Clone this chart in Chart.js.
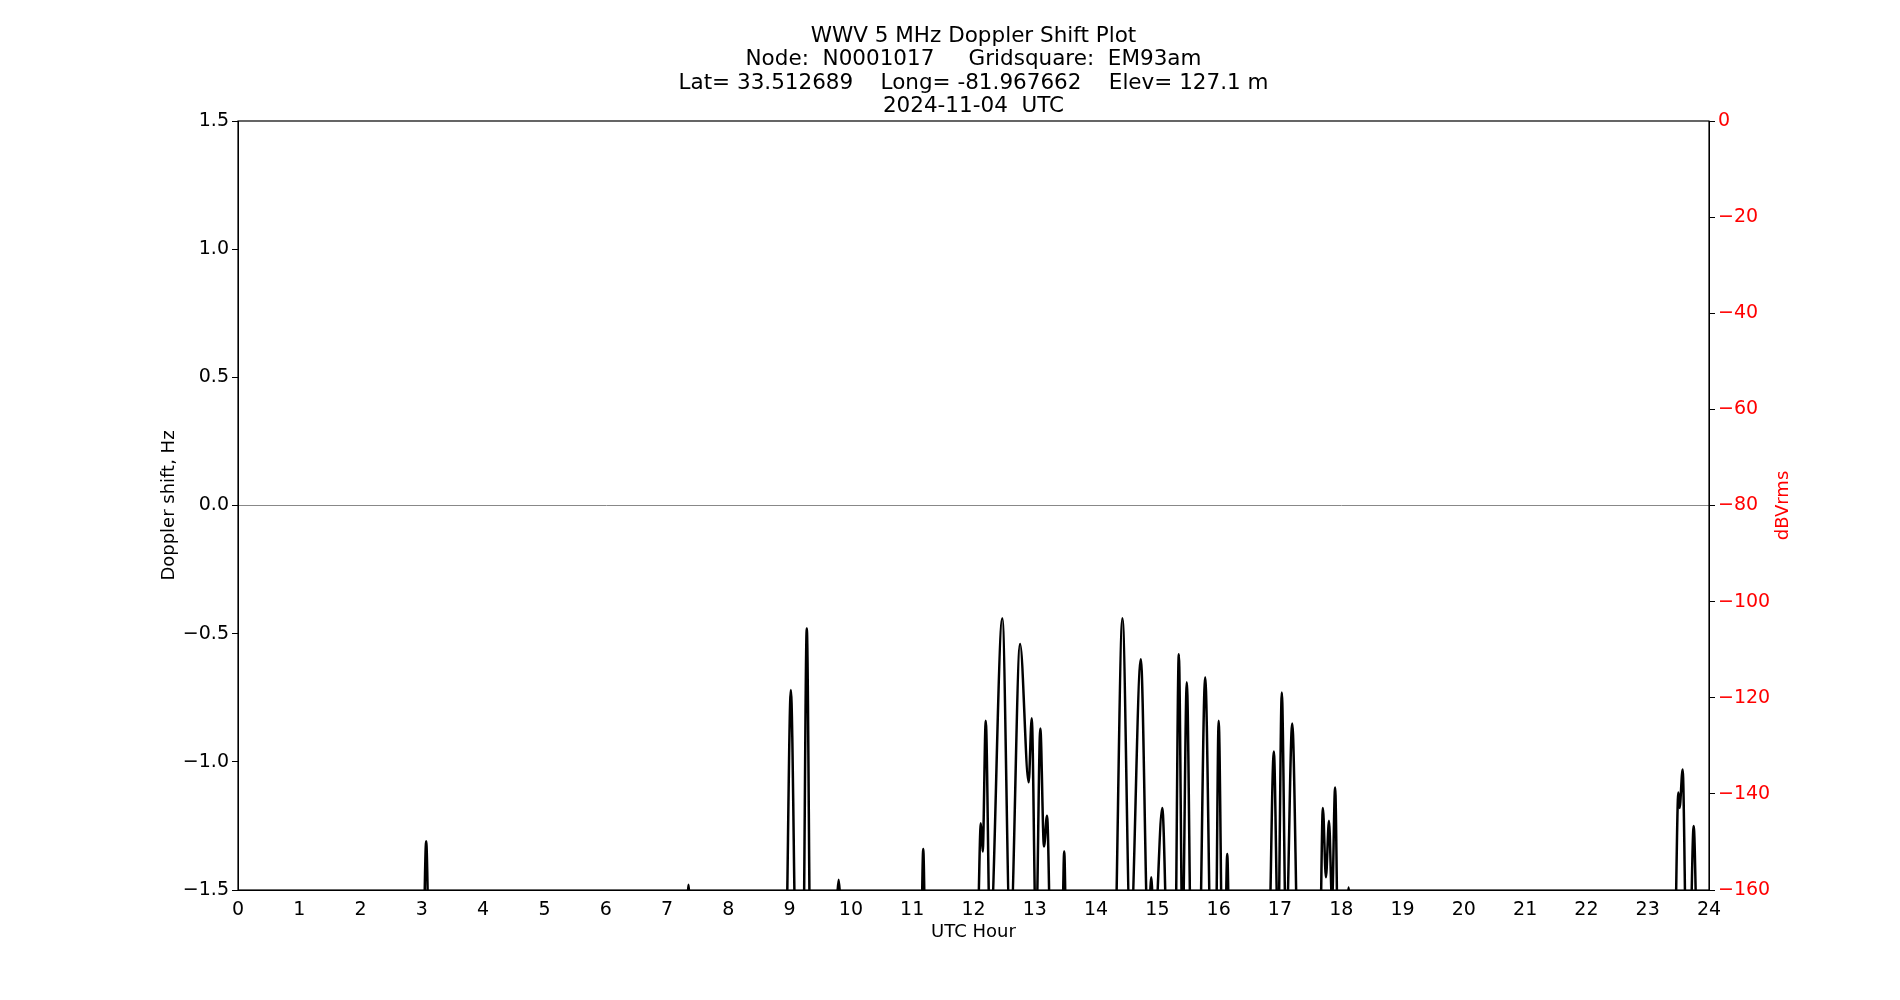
<!DOCTYPE html>
<html>
<head>
<meta charset="utf-8">
<script src="https://cdn.jsdelivr.net/npm/chart.js@4.4.1/dist/chart.umd.min.js"></script>
<style>
  body { margin: 0; background: #fff; }
  #wrap { width: 1900px; height: 1000px; }
</style>
</head>
<body>
<div id="wrap"><canvas id="dopplerChart"></canvas></div>
<script>
// title lines
const titleLines = [
    "WWV 5 MHz Doppler Shift Plot",
    "Node:  N0001017     Gridsquare:  EM93am",
    "Lat= 33.512689    Long= -81.967662    Elev= 127.1 m",
    "2024-11-04  UTC"
];

// hour ticks and right axis ticks
const hourTicks = [0,1,2,3,4,5,6,7,8,9,10,11,12,13,14,15,16,17,18,19,20,21,22,23,24];
const dbTicks = [0,-20,-40,-60,-80,-100,-120,-140,-160];

// doppler trace, null breaks between bursts, -1.7 = below the plot floor
const hours = [
    3.03,3.07,3.11,null,
    7.33,7.35,7.37,null,
    8.95,9.02,9.09,null,9.23,9.28,9.33,null,
    9.77,9.8,9.83,null,
    11.15,11.18,11.21,null,
    12.07,12.12,12.15,12.2,12.27,12.47,12.6,12.76,12.9,12.95,13.02,13.09,13.15,13.2,13.25,null,
    13.45,13.48,13.51,null,
    14.32,14.43,14.56,14.73,14.85,14.9,14.95,15.08,15.15,null,
    15.3,15.35,15.41,15.48,15.54,null,
    15.7,15.78,15.86,null,15.96,16.0,16.05,null,16.11,16.14,16.17,null,
    16.83,16.9,16.97,17.03,17.1,17.2,17.28,null,
    17.66,17.7,17.75,17.8,17.85,17.9,17.94,null,
    18.1,18.12,18.14,null,
    23.45,23.5,23.52,23.57,23.62,null,23.7,23.75,23.8
];
const shift = [
    -1.7,-1.31,-1.7,null,
    -1.55,-1.48,-1.55,null,
    -1.7,-0.72,-1.7,null,-1.7,-0.48,-1.7,null,
    -1.55,-1.46,-1.55,null,
    -1.7,-1.34,-1.7,null,
    -1.7,-1.24,-1.35,-0.84,-1.7,-0.44,-1.7,-0.54,-1.08,-0.83,-1.7,-0.87,-1.33,-1.21,-1.7,null,
    -1.7,-1.35,-1.7,null,
    -1.7,-0.44,-1.7,-0.6,-1.7,-1.45,-1.7,-1.18,-1.7,null,
    -1.7,-0.58,-1.7,-0.69,-1.7,null,
    -1.7,-0.67,-1.7,null,-1.7,-0.84,-1.7,null,-1.7,-1.36,-1.7,null,
    -1.7,-0.96,-1.7,-0.73,-1.7,-0.85,-1.7,null,
    -1.7,-1.18,-1.45,-1.23,-1.55,-1.1,-1.7,null,
    -1.55,-1.49,-1.55,null,
    -1.7,-1.12,-1.18,-1.03,-1.7,null,-1.7,-1.25,-1.7
];

const points = hours.map((h, i) => h === null ? {x: NaN, y: null} : {x: h, y: shift[i]});

const FONT = "'DejaVu Sans', sans-serif";

// figure title and axis titles
const textPlugin = {
    id: 'figureText',
    afterDraw(chart) {
        const ctx = chart.ctx;
        const a = chart.chartArea;
        const cx = (a.left + a.right) / 2;
        ctx.save();
        ctx.textAlign = 'center';
        ctx.textBaseline = 'middle';
        ctx.fillStyle = '#000';
        ctx.font = "21.5px " + FONT;
        titleLines.forEach((t, i) => ctx.fillText(t, cx, 36 + i * 23.5));

        ctx.font = "18px " + FONT;
        ctx.fillText('UTC Hour', cx, 932);

        ctx.translate(169, (a.top + a.bottom) / 2);
        ctx.rotate(-Math.PI / 2);
        ctx.fillText('Doppler shift, Hz', 0, 0);
        ctx.restore();

        ctx.save();
        ctx.textAlign = 'center';
        ctx.textBaseline = 'middle';
        ctx.fillStyle = '#ff0000';
        ctx.font = "18px " + FONT;
        ctx.translate(1783, (a.top + a.bottom) / 2);
        ctx.rotate(-Math.PI / 2);
        ctx.fillText('dBVrms', 0, 0);
        ctx.restore();
    }
};

const frameBorder = {
    id: 'frameBorder',
    afterDatasetsDraw(chart) {
        const a = chart.chartArea, ctx = chart.ctx;
        ctx.save();
        ctx.strokeStyle = '#000';
        ctx.lineWidth = 1.2;
        ctx.strokeRect(a.left, a.top, a.right - a.left, a.bottom - a.top);
        ctx.restore();
    }
};

new Chart(document.getElementById('dopplerChart').getContext('2d'), {
    type: 'line',
    data: {
        datasets: [{
            data: points,
            borderColor: '#000',
            borderWidth: 2.5,
            pointRadius: 0,
            cubicInterpolationMode: 'monotone',
            spanGaps: false,
            yAxisID: 'y'
        }]
    },
    plugins: [textPlugin, frameBorder],
    options: {
        responsive: true,
        maintainAspectRatio: false,
        animation: false,
        layout: { padding: { top: 121, left: 0, right: 0, bottom: 0 } },
        plugins: { legend: { display: false }, tooltip: { enabled: false } },
        scales: {
            x: {
                type: 'linear', min: 0, max: 24,
                afterBuildTicks: s => { s.ticks = hourTicks.map(v => ({value: v})); },
                afterFit: s => { s.height = 110; },
                grid: { display: false, drawTicks: true },
                border: { color: '#000' },
                ticks: { color: '#000', font: { family: FONT, size: 19 }, maxRotation: 0, autoSkip: false, padding: 1 }
            },
            y: {
                position: 'left', min: -1.5, max: 1.5,
                ticks: { stepSize: 0.5, color: '#000', font: { family: FONT, size: 19 },
                         callback: v => (v < 0 ? '\u2212' + Math.abs(v).toFixed(1) : v.toFixed(1)) },
                afterFit: s => { s.width = 238; },
                grid: { drawOnChartArea: true, drawTicks: true, tickLength: 6,
                        color: c => (c.tick && c.tick.value === 0 ? '#888' : 'rgba(0,0,0,0)'),
                        tickColor: '#000' },
                border: { color: '#000' }
            },
            y1: {
                position: 'right', min: -160, max: 0,
                afterBuildTicks: s => { s.ticks = dbTicks.map(v => ({value: v})); },
                afterFit: s => { s.width = 191; },
                grid: { drawOnChartArea: false, tickLength: 6, tickColor: '#000' },
                border: { color: '#000' },
                ticks: { color: '#ff0000', font: { family: FONT, size: 19 },
                         callback: v => (v < 0 ? '\u2212' + Math.abs(v) : String(v)) }
            }
        }
    }
});
</script>
</body>
</html>
